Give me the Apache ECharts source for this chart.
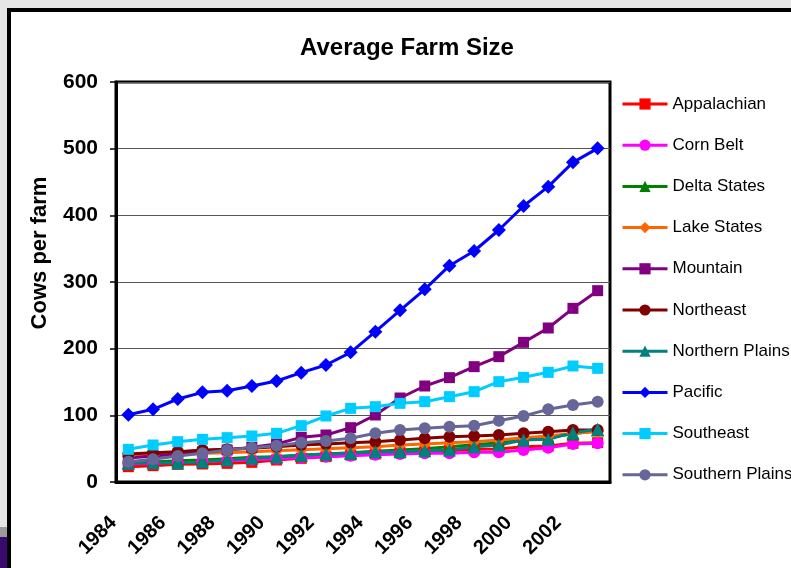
<!DOCTYPE html>
<html>
<head>
<meta charset="utf-8">
<script src="https://cdn.jsdelivr.net/npm/echarts@6/dist/echarts.min.js"></script>
<style>
  html, body { margin: 0; padding: 0; background: #e6e6e6; }
  #chart { width: 791px; height: 568px; }
</style>
</head>
<body>
<div id="chart"></div>
<script>
// Average number of cows per farm, by region
const years = ['1984','1985','1986','1987','1988','1989','1990','1991','1992','1993',
               '1994','1995','1996','1997','1998','1999','2000','2001','2002','2003'];
const yTicks = [0, 100, 200, 300, 400, 500, 600];

const appalachian    = [23, 24.5, 26.5, 27, 28, 29.5, 33, 35.5, 38, 40.5, 42, 44, 45.5, 47, 49, 49.5, 53, 54, 58, 59];
const cornBelt       = [27, 28, 30, 31, 32, 33.5, 35, 36.5, 38, 39.5, 41, 42, 43, 43, 44.5, 44.5, 48, 51.5, 57, 58];
const deltaStates    = [29, 30, 32, 33, 35, 37, 38, 40, 42, 44, 46, 48, 50, 53, 56, 59, 63, 67, 72, 78];
const lakeStates     = [38, 40, 41, 43, 44, 45.5, 47, 48.5, 50, 51.5, 53, 55.5, 57, 59, 60.5, 63, 66.5, 69, 73, 75.5];
const mountain       = [36, 39, 42, 45, 48, 52, 57, 67, 70.5, 81.5, 100.5, 126, 144, 156.5, 173, 188, 209.5, 231, 260.5, 287];
const northeast      = [42, 44, 45.5, 48, 49, 50.5, 53, 55.5, 57, 59, 60.5, 63, 65.5, 68, 69, 70.5, 73, 75.5, 78, 78];
const northernPlains = [28, 29, 28.5, 30.5, 33, 35.5, 38, 40.5, 42, 43, 45.5, 45.5, 47, 48, 53, 55.5, 63, 64, 74, 79];
const pacific        = [101, 109, 124.5, 134.5, 137, 144, 151.5, 164, 175.5, 194.5, 225.5, 257.5, 289, 324.5, 346.5, 378, 414, 443, 479.5, 500.5];
const southeast      = [49, 55.5, 60.5, 64, 66.5, 69, 73, 84.5, 99, 110.5, 113, 118, 120.5, 128, 135.5, 150.5, 157, 164.5, 174, 170.5];
const southernPlains = [30.5, 34, 39, 43, 48, 51.5, 54.5, 59, 61.5, 65.5, 73, 78, 80.5, 83, 84.5, 92, 99, 109, 115.5, 120.5];

const regions = [
  { name: 'Appalachian',     data: appalachian,    color: '#ff0000', symbol: 'rect',     size: 11 },
  { name: 'Corn Belt',       data: cornBelt,       color: '#ff00ff', symbol: 'circle',   size: 12 },
  { name: 'Delta States',    data: deltaStates,    color: '#008000', symbol: 'triangle', size: 13 },
  { name: 'Lake States',     data: lakeStates,     color: '#ff6600', symbol: 'diamond',  size: 13 },
  { name: 'Mountain',        data: mountain,       color: '#800080', symbol: 'rect',     size: 11 },
  { name: 'Northeast',       data: northeast,      color: '#800000', symbol: 'circle',   size: 12 },
  { name: 'Northern Plains', data: northernPlains, color: '#008080', symbol: 'triangle', size: 13 },
  { name: 'Pacific',         data: pacific,        color: '#0000ff', symbol: 'diamond',  size: 14 },
  { name: 'Southeast',       data: southeast,      color: '#00ccff', symbol: 'rect',     size: 11 },
  { name: 'Southern Plains', data: southernPlains, color: '#666699', symbol: 'circle',   size: 12 }
];

const FONT = '"Liberation Sans", Arial, sans-serif';
const chart = echarts.init(document.getElementById('chart'));

chart.setOption({
  animation: false,
  backgroundColor: '#e6e6e6',
  graphic: [
    // white slide panel with black frame
    { type: 'rect', z: -10, shape: { x: 9, y: 10, width: 800, height: 580 },
      style: { fill: '#ffffff', stroke: '#000000', lineWidth: 4 } },
    { type: 'rect', z: -10, shape: { x: 0, y: 527, width: 7, height: 10 },
      style: { fill: '#9a9a9a' } },
    { type: 'rect', z: -10, shape: { x: 0, y: 537, width: 7, height: 31 },
      style: { fill: '#3a0a6c' } }
  ],
  title: {
    text: 'Average Farm Size',
    left: 402,
    textAlign: 'center',
    top: 31,
    textStyle: { fontFamily: FONT, fontSize: 24, fontWeight: 'bold', color: '#000' }
  },
  legend: {
    orient: 'vertical',
    left: 621,
    top: 94,
    padding: 0,
    itemWidth: 45,
    itemHeight: 14,
    itemGap: 21.2,
    lineStyle: { width: 3 },
    textStyle: { fontFamily: FONT, fontSize: 17, color: '#000', lineHeight: 20 },
    data: regions.map(r => r.name)
  },
  grid: {
    left: 116, top: 82, width: 494, height: 400,
    show: true, borderColor: '#000', borderWidth: 3, backgroundColor: 'transparent'
  },
  xAxis: {
    type: 'category',
    data: years,
    boundaryGap: true,
    axisLine: { lineStyle: { color: '#000', width: 3 } },
    axisTick: { interval: 0, length: 6, lineStyle: { color: '#000', width: 1.5 } },
    axisLabel: {
      interval: 1, rotate: 45, margin: 47, verticalAlign: 'bottom', lineHeight: 34,
      padding: [0, 4, 0, 0],
      fontFamily: FONT, fontSize: 20, fontWeight: 'bold', color: '#000'
    },
    splitLine: { show: false }
  },
  yAxis: {
    type: 'value',
    min: yTicks[0], max: yTicks[yTicks.length - 1], interval: 100,
    name: 'Cows per farm',
    nameLocation: 'middle',
    nameGap: 65,
    nameRotate: 90,
    nameTextStyle: { fontFamily: FONT, fontSize: 22, fontWeight: 'bold', color: '#000', padding: [0, 0, 0, 58] },
    axisLine: { show: true, lineStyle: { color: '#000', width: 3 } },
    axisTick: { show: true, length: 6, lineStyle: { color: '#000', width: 1.5 } },
    axisLabel: { margin: 18, fontFamily: FONT, fontSize: 21, fontWeight: 'bold', color: '#000' },
    splitLine: { show: true, lineStyle: { color: '#555', width: 1 } }
  },
  series: regions.map(r => ({
    name: r.name,
    type: 'line',
    data: r.data,
    symbol: r.symbol,
    symbolSize: r.size,
    showAllSymbol: true,
    color: r.color,
    lineStyle: { color: r.color, width: 3 },
    itemStyle: { color: r.color, borderWidth: 0 }
  }))
});
</script>
</body>
</html>
